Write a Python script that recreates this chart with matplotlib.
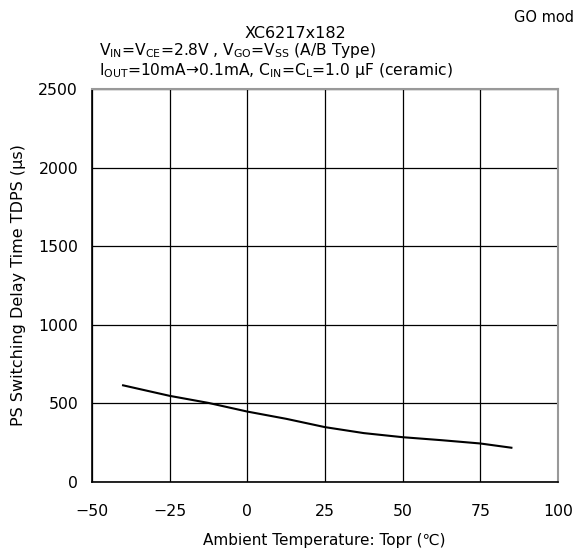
import numpy as np
import matplotlib.pyplot as plt

plt.rcParams['font.family'] = ['DejaVu Sans', 'Noto Sans CJK JP']
plt.rcParams['mathtext.fontset'] = 'dejavusans'

temp = [-40, -25, -12.5, 0, 12.5, 25, 37.5, 50, 62.5, 75, 85]
tdps = [615, 548, 503, 448, 402, 349, 311, 285, 266, 245, 218]

xticks = [-50, -25, 0, 25, 50, 75, 100]
xticklabels = ["−50", "−25", "0", "25", "50", "75", "100"]
yticks = [0, 500, 1000, 1500, 2000, 2500]

fig = plt.figure(figsize=(5.75, 5.51), dpi=100)
ax = fig.add_axes([92/575, 1 - 482/551, (558-92)/575, (482-89)/551])

ax.plot(temp, tdps, color="black", lw=1.5)
ax.set_xlim(-50, 100)
ax.set_ylim(0, 2500)
ax.set_xticks(xticks)
ax.set_yticks(yticks)
ax.set_xticklabels(xticklabels)
ax.tick_params(length=0, labelsize=11.3)
ax.tick_params(axis="x", pad=16)
ax.tick_params(axis="y", pad=10)
ax.grid(color="black", lw=0.9)
for s in ["top", "right"]:
    ax.spines[s].set_color("#999999")
    ax.spines[s].set_linewidth(1.5)
for s in ["left", "bottom"]:
    ax.spines[s].set_color("black")
    ax.spines[s].set_linewidth(1.2)

ax.set_xlabel("Ambient Temperature: Topr (℃)", fontsize=11)
ax.xaxis.set_label_coords(0.499, -0.13)
ax.set_ylabel("PS Switching Delay Time TDPS (μs)", fontsize=11.5)
ax.yaxis.set_label_coords(-0.142, 0.5)

fig.text(295/575, 1 - 34/551, "XC6217x182", ha="center", va="center", fontsize=11.5)
fig.text(99/575, 1 - 51/551,
         r"V$_{\mathregular{IN}}$=V$_{\mathregular{CE}}$=2.8V , V$_{\mathregular{GO}}$=V$_{\mathregular{SS}}$ (A/B Type)",
         ha="left", va="center", fontsize=11.2)
fig.text(99/575, 1 - 70/551,
         r"I$_{\mathregular{OUT}}$=10mA→0.1mA, C$_{\mathregular{IN}}$=C$_{\mathregular{L}}$=1.0 μF (ceramic)",
         ha="left", va="center", fontsize=11.2)
fig.text(514/575, 1 - 18/551, "GO mod", ha="left", va="center", fontsize=10.5)

fig.savefig("out.png", dpi=100)
